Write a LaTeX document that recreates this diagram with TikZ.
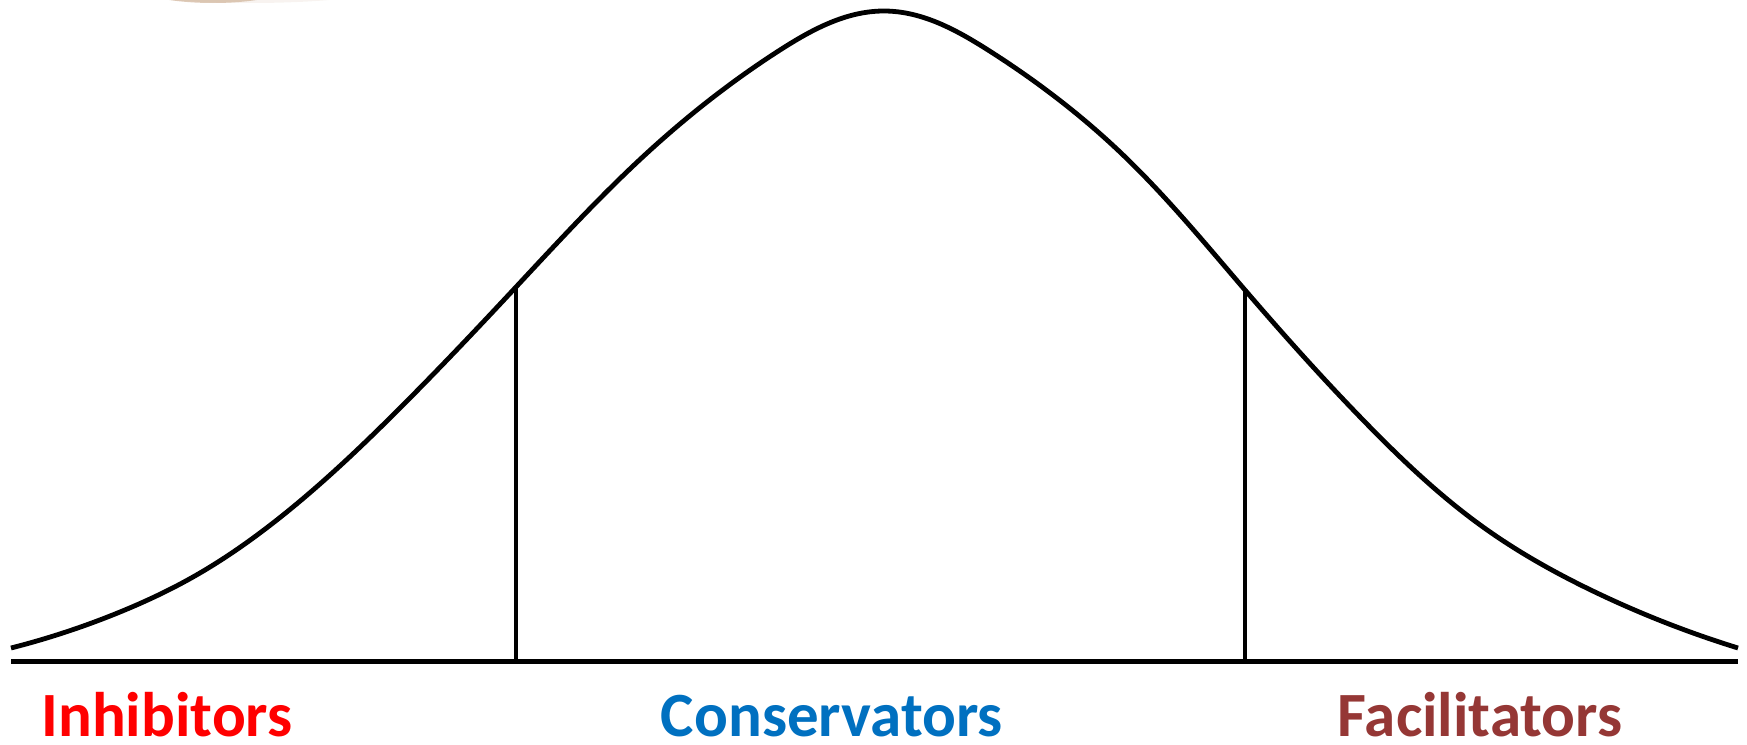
\documentclass[tikz,border=0pt]{standalone}
\usepackage{fontspec}
\setmainfont{Carlito}
\usetikzlibrary{hobby}
\definecolor{inhibred}{RGB}{255,0,0}
\definecolor{consblue}{RGB}{0,112,192}
\definecolor{facilred}{RGB}{149,55,53}
\definecolor{smudge}{RGB}{196,160,128}
\begin{document}
\begin{tikzpicture}[x=1pt,y=-1pt,
  curveline/.style={line width=4.8pt, line join=round, use Hobby shortcut},
  axisline/.style={line width=5pt},
  divline/.style={line width=4.5pt},
  catlabel/.style={font=\bfseries\fontsize{63}{70}\selectfont, anchor=base, inner sep=0pt}]
\useasboundingbox (0,0) rectangle (1747,744);
\begin{scope}
  \clip (0,0) rectangle (1747,744);
  \fill[smudge, opacity=0.55] (213,-22) ellipse [x radius=92, y radius=25];
  \fill[smudge, opacity=0.12] (250,-14) ellipse [x radius=140, y radius=17];
\end{scope}
\draw[curveline] (11,648) .. (120,612) .. (193,577) .. (273,523) .. (393,415)
  .. (516,287) .. (647,153) .. (780,50) .. (884,11) .. (988,50) .. (1121,153)
  .. (1245,290) .. (1363,420) .. (1483,527) .. (1597,593) .. (1738,648);
\coordinate (axl) at (11,661);
\coordinate (axr) at (1738,661);
\coordinate (ltop) at (516,287);
\coordinate (lbot) at (516,661);
\coordinate (rtop) at (1245,290);
\coordinate (rbot) at (1245,661);
\draw[axisline] (axl) -- (axr);
\draw[divline] (ltop) -- (lbot);
\draw[divline] (rtop) -- (rbot);
\node[catlabel, text=inhibred] (inhib) at (167,736) {Inhibitors};
\node[catlabel, text=consblue] (cons) at (832,736) {Conservators};
\node[catlabel, text=facilred] (facil) at (1480,736) {Facilitators};
\end{tikzpicture}
\end{document}
